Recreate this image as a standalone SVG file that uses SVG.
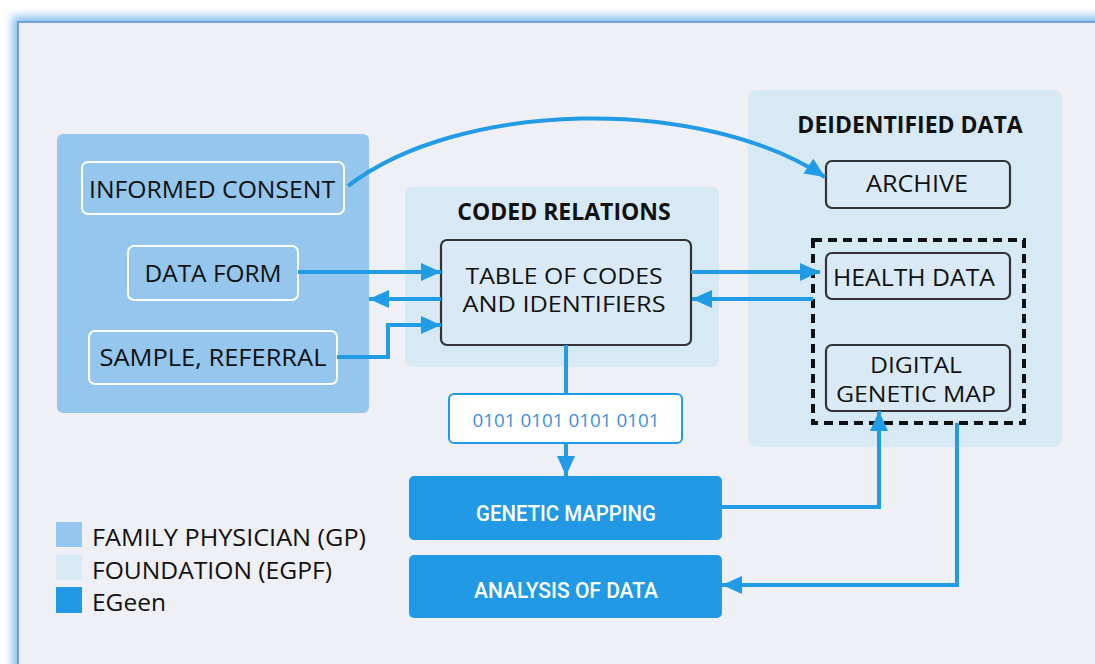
<svg xmlns="http://www.w3.org/2000/svg" width="1095" height="664" viewBox="0 0 1095 664">
<defs>
<filter id="glow" x="-5%" y="-5%" width="110%" height="110%"><feGaussianBlur stdDeviation="4"/></filter>
<marker id="ah" markerUnits="userSpaceOnUse" markerWidth="20" markerHeight="18" refX="20" refY="9" orient="auto"><path d="M0,0 L20,9 L0,18 Z" fill="#219be6"/></marker>
<style>
.lbl{font-family:"Open Sans","DejaVu Sans",sans-serif;font-size:24px;fill:#111;text-anchor:middle}
.lbl2{font-family:"Open Sans","DejaVu Sans",sans-serif;font-size:22px;fill:#111;text-anchor:middle}
.ttl{font-family:"Open Sans","DejaVu Sans",sans-serif;font-size:23px;font-weight:bold;fill:#111;text-anchor:middle}
.leg{font-family:"Open Sans","DejaVu Sans",sans-serif;font-size:24px;fill:#111}
.wht{font-family:"Roboto","Open Sans",sans-serif;font-size:22px;font-weight:500;fill:#fff;text-anchor:middle}
.conn{fill:none;stroke:#219be6;stroke-width:4}
.gpbox{fill:#94c6ee;stroke:#fff;stroke-width:2}
.dkbox{fill:#d9e9f6;stroke:#333;stroke-width:2.2}
.eg{fill:#2299e4}
</style>
</defs>
<rect x="0" y="0" width="1095" height="664" fill="#fff"/>
<rect x="12" y="16" width="1100" height="700" fill="#8fc2ee" filter="url(#glow)"/>
<rect x="18" y="22" width="1100" height="700" fill="#efeff6" stroke="#5b8ec8" stroke-width="1.5"/>

<g id="panel-gp"><rect x="57" y="134" width="312" height="279" rx="6" fill="#94c6ee"/></g>
<g id="panel-coded"><rect x="405" y="187" width="314" height="180" rx="6" fill="#d8e9f6"/><text class="ttl" x="564" y="220">CODED RELATIONS</text></g>
<g id="panel-deid"><rect x="748" y="90" width="314" height="357" rx="8" fill="#d8e9f6"/><text class="ttl" x="910" y="133">DEIDENTIFIED DATA</text></g>

<g id="informed-consent"><rect class="gpbox" x="82" y="162" width="262" height="52" rx="6"/><text class="lbl" x="212" y="198" textLength="246" lengthAdjust="spacingAndGlyphs">INFORMED CONSENT</text></g>
<g id="data-form"><rect class="gpbox" x="128" y="246" width="170" height="54" rx="6"/><text class="lbl" x="213" y="282" textLength="137" lengthAdjust="spacingAndGlyphs">DATA FORM</text></g>
<g id="sample-referral"><rect class="gpbox" x="89" y="331" width="248" height="53" rx="6"/><text class="lbl" x="213" y="366" textLength="227" lengthAdjust="spacingAndGlyphs">SAMPLE, REFERRAL</text></g>

<g id="table-codes"><rect class="dkbox" x="441" y="240" width="250" height="105" rx="6"/><text class="lbl2" x="564" y="284" textLength="197" lengthAdjust="spacingAndGlyphs">TABLE OF CODES</text><text class="lbl2" x="564" y="312" textLength="203" lengthAdjust="spacingAndGlyphs">AND IDENTIFIERS</text></g>

<g id="binary"><rect x="449" y="394" width="233" height="49" rx="5" fill="#fff" stroke="#219be6" stroke-width="2"/><text x="566" y="427" text-anchor="middle" font-family="Open Sans, DejaVu Sans, sans-serif" font-size="18" fill="#3a8fdc" textLength="187" lengthAdjust="spacingAndGlyphs">0101 0101 0101 0101</text></g>

<g id="archive"><rect class="dkbox" x="826" y="161" width="184" height="47" rx="6"/><text class="lbl" x="917" y="192" textLength="102" lengthAdjust="spacingAndGlyphs">ARCHIVE</text></g>
<g id="dashed-group"><rect x="813" y="240" width="211" height="183" fill="none" stroke="#111" stroke-width="4" stroke-dasharray="9 6"/></g>
<g id="health-data"><rect class="dkbox" x="826" y="253" width="184" height="46" rx="6"/><text class="lbl" x="914" y="286" textLength="162" lengthAdjust="spacingAndGlyphs">HEALTH DATA</text></g>
<g id="digital-genetic-map"><rect class="dkbox" x="826" y="345" width="184" height="66" rx="6"/><text class="lbl2" x="916" y="373" textLength="92" lengthAdjust="spacingAndGlyphs">DIGITAL</text><text class="lbl2" x="916" y="402" textLength="160" lengthAdjust="spacingAndGlyphs">GENETIC MAP</text></g>

<g id="genetic-mapping"><rect class="eg" x="409" y="476" width="313" height="64" rx="5"/><text class="wht" x="566" y="521" textLength="180" lengthAdjust="spacingAndGlyphs">GENETIC MAPPING</text></g>
<g id="analysis-of-data"><rect class="eg" x="409" y="555" width="313" height="63" rx="5"/><text class="wht" x="566" y="598" textLength="184" lengthAdjust="spacingAndGlyphs">ANALYSIS OF DATA</text></g>

<g id="legend">
<rect x="56" y="522" width="26" height="25" fill="#94c6ee"/><text class="leg" x="92" y="546" textLength="274" lengthAdjust="spacingAndGlyphs">FAMILY PHYSICIAN (GP)</text>
<rect x="56" y="555" width="26" height="25" fill="#d8e9f6"/><text class="leg" x="92" y="579" textLength="240" lengthAdjust="spacingAndGlyphs">FOUNDATION (EGPF)</text>
<rect x="56" y="587" width="26" height="26" fill="#2299e4"/><text class="leg" x="92" y="611" textLength="74" lengthAdjust="spacingAndGlyphs">EGeen</text>
</g>

<g id="connectors">
<path class="conn" d="M348,186 C460,100 700,95 825,177" marker-end="url(#ah)"/>
<path class="conn" d="M298,272 L441,272" marker-end="url(#ah)"/>
<path class="conn" d="M441,299 L369,299" marker-end="url(#ah)"/>
<path class="conn" d="M337,357 L388,357 L388,325 L441,325" marker-end="url(#ah)"/>
<path class="conn" d="M691,272 L820,272" marker-end="url(#ah)"/>
<path class="conn" d="M813,299 L692,299" marker-end="url(#ah)"/>
<path class="conn" d="M566,345 L566,394"/>
<path class="conn" d="M566,443 L566,476" marker-end="url(#ah)"/>
<path class="conn" d="M722,507 L879,507 L879,411" marker-end="url(#ah)"/>
<path class="conn" d="M957,423 L957,585 L722,585" marker-end="url(#ah)"/>
</g>
</svg>
